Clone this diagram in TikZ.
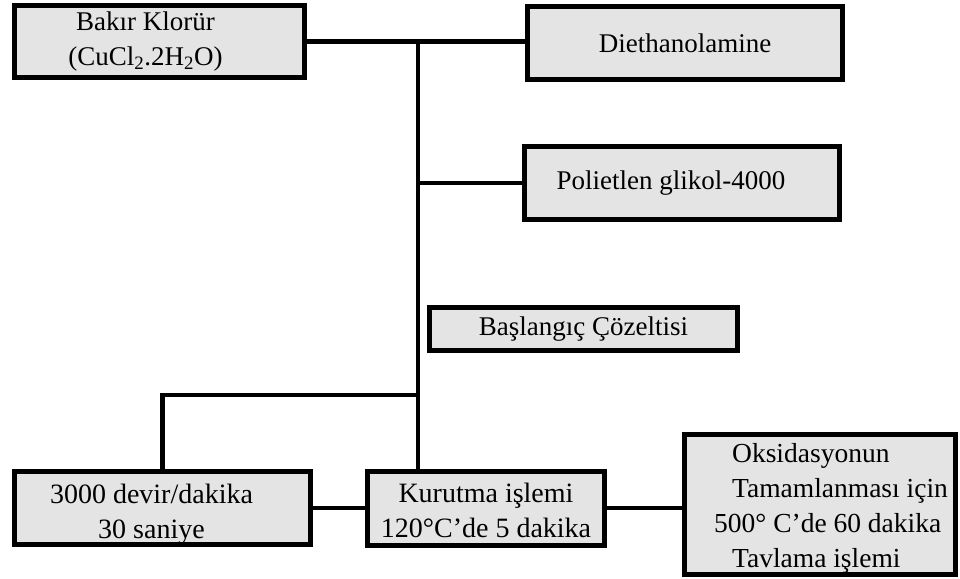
\documentclass[tikz,border=0pt]{standalone}
\usepackage{fontspec}
\setmainfont{Liberation Serif}
\usepackage{tikz}
\usepackage{xcolor}
\definecolor{boxgray}{RGB}{228,228,228}
\tikzset{%
    stepbox/.style={%
        draw=black, fill=boxgray, line width=5pt, inner sep=0pt,
        font=\fontsize{27}{35}\selectfont
    },
    link/.style={line width=4.5pt}
}

\begin{document}
\begin{tikzpicture}[x=1pt,y=-1pt]
    \useasboundingbox (0,0) rectangle (960,578);
%-----------------------------------------------
    \node[stepbox, minimum width=290pt, minimum height=72pt] (bakir) at (159.5,41.5)
        {\begin{tabular}{@{}c@{}}Bakır Klorür\\(CuCl\textsubscript{2}.2H\textsubscript{2}O)\end{tabular}\hspace*{28pt}};
    \node[stepbox, minimum width=315pt, minimum height=73pt] (diet) at (685,43) {Diethanolamine};
    \node[stepbox, minimum width=315pt, minimum height=73pt] (peg) at (682,183) {Polietlen glikol-4000\hspace*{22pt}};
    \node[stepbox, minimum width=308pt, minimum height=43pt] (bas) at (583.5,329) {Başlangıç Çözeltisi};
%-----------------------------------------------
    \node[stepbox, minimum width=296pt, minimum height=73pt, font=\fontsize{28}{35}\selectfont] (devir) at (162.5,508)
        {\raisebox{-6pt}[\height][\depth]{\begin{tabular}{@{}c@{}}3000 devir/dakika\\30 saniye\end{tabular}}\hspace*{22pt}};
    \node[stepbox, minimum width=237pt, minimum height=74pt, font=\fontsize{28}{35}\selectfont] (kur) at (486,508)
        {\raisebox{-5pt}[\height][\depth]{\begin{tabular}{@{}c@{}}Kurutma işlemi\\120°C’de 5 dakika\end{tabular}}};
    \node[stepbox, minimum width=271pt, minimum height=140pt, font=\fontsize{27.5}{35}\selectfont] (oks) at (820,504.5)
        {\hspace*{22pt}\raisebox{-3pt}[\height][\depth]{\begin{tabular}{@{}l@{}}\hspace*{18pt}Oksidasyonun\\\hspace*{18pt}Tamamlanması için\\500° C’de 60 dakika\\\hspace*{18pt}Tavlama işlemi\end{tabular}}};
%-----------------------------------------------
    \coordinate (top) at (418,41);
    \coordinate (split) at (418,395);
    \draw[link] (bakir.east) -- (bakir.east -| diet.west);
    \draw[link] (top) -- (top |- kur.north);
    \draw[link] (top |- peg.west) -- (peg.west);
    \draw[link] (split) -| (devir.north);
    \draw[link] (devir.east) -- (devir.east -| kur.west);
    \draw[link] (kur.east) -- (kur.east -| oks.west);
\end{tikzpicture}
\end{document}
